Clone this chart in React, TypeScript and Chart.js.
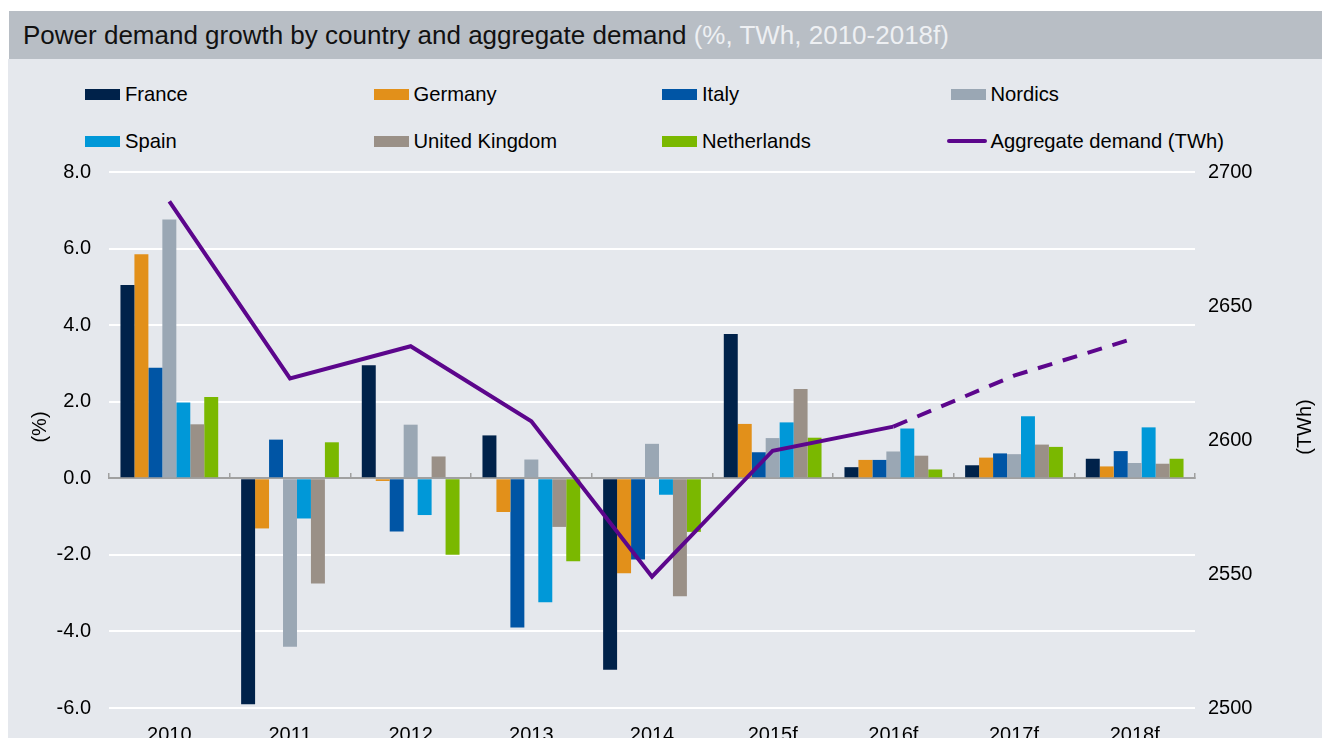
import React, { useEffect, useRef } from 'react';
import { Chart, registerables } from 'chart.js';

Chart.register(...registerables);

const titleMain = 'Power demand growth by country and aggregate demand';
const titleSub = '(%, TWh, 2010-2018f)';
const leftAxisTitle = '(%)';
const rightAxisTitle = '(TWh)';

const categories = ['2010', '2011', '2012', '2013', '2014', '2015f', '2016f', '2017f', '2018f'];

const france = [5.05, -5.9, 2.95, 1.12, -5.0, 3.77, 0.29, 0.34, 0.51];
const germany = [5.85, -1.31, -0.07, -0.88, -2.48, 1.42, 0.48, 0.54, 0.31];
const italy = [2.89, 1.01, -1.39, -3.9, -2.12, 0.68, 0.48, 0.65, 0.71];
const nordics = [6.76, -4.4, 1.4, 0.49, 0.9, 1.05, 0.7, 0.63, 0.4];
const spain = [1.98, -1.05, -0.96, -3.24, -0.43, 1.46, 1.3, 1.62, 1.33];
const unitedKingdom = [1.41, -2.75, 0.57, -1.27, -3.08, 2.33, 0.59, 0.88, 0.38];
const netherlands = [2.12, 0.94, -2.0, -2.17, -1.4, 1.06, 0.23, 0.82, 0.51];
const aggregateDemand = [2689, 2623, 2635, 2607, 2549, 2596, 2605, 2624, 2638];

const seriesNames = ['France', 'Germany', 'Italy', 'Nordics', 'Spain', 'United Kingdom', 'Netherlands'];
const seriesColors = ['#00224a', '#e2901a', '#0055a5', '#9aa7b4', '#0098d8', '#9a9087', '#7ab800'];
const lineName = 'Aggregate demand (TWh)';
const lineColor = '#5c068c';
const forecastStartIndex = 6;

const leftMin = -6, leftMax = 8, leftStep = 2;
const rightMin = 2500, rightMax = 2700, rightStep = 50;

const FONT = '"Liberation Sans", Arial, Helvetica, sans-serif';

const axisTitlePlugin = {
  id: 'axisTitles',
  afterDraw(chart: any) {
    const { ctx, chartArea } = chart;
    const cy = (chartArea.top + chartArea.bottom) / 2 - 13;
    ctx.save();
    ctx.font = `20px ${FONT}`;
    ctx.fillStyle = '#000';
    ctx.textAlign = 'center';
    ctx.textBaseline = 'middle';
    const draw = (text: string, x: number) => {
      ctx.save();
      ctx.translate(x, cy);
      ctx.rotate(-Math.PI / 2);
      ctx.fillText(text, 0, 0);
      ctx.restore();
    };
    draw(leftAxisTitle, chart.scales.y.left + 32);
    draw(rightAxisTitle, chart.scales.y1.right - 21);
    ctx.restore();
  },
};

export default function App() {
  const ref = useRef<HTMLCanvasElement>(null);

  useEffect(() => {
    document.documentElement.style.overflow = 'hidden';
    document.body.style.overflow = 'hidden';
    Chart.defaults.font.family = FONT;
    const values = [france, germany, italy, nordics, spain, unitedKingdom, netherlands];
    const barSets = seriesNames.map((name, i) => ({
      type: 'bar' as const,
      label: name,
      data: values[i],
      backgroundColor: seriesColors[i],
      borderWidth: 0,
      xAxisID: 'x',
      yAxisID: 'y',
      categoryPercentage: 0.81,
      barPercentage: 1,
      order: 1,
    }));
    const chart = new Chart(ref.current!, {
      type: 'bar',
      data: {
        labels: categories,
        datasets: [
          {
            type: 'line' as const,
            label: lineName,
            data: aggregateDemand,
            xAxisID: 'x',
            yAxisID: 'y1',
            borderColor: lineColor,
            backgroundColor: lineColor,
            borderWidth: 4,
            pointRadius: 0,
            tension: 0,
            fill: false,
            order: 0,
            segment: {
              borderDash: (c: any) => (c.p0DataIndex >= forecastStartIndex ? [15, 11] : undefined),
            },
          } as any,
          ...barSets,
        ],
      },
      options: {
        animation: false,
        responsive: false,
        maintainAspectRatio: false,
        layout: { padding: { top: 14, left: 0, right: 0, bottom: 0 } },
        plugins: { legend: { display: false }, tooltip: { enabled: false } },
        scales: {
          x: {
            grid: { display: false, drawTicks: false },
            border: { display: false },
            ticks: { color: '#000', font: { size: 20 }, padding: 15, maxRotation: 0, autoSkip: false },
            afterFit: (s: any) => { s.height = 44; },
          },
          x2: {
            type: 'category',
            labels: categories,
            position: { y: 0 } as any,
            offset: true,
            grid: { drawOnChartArea: false, drawTicks: true, tickLength: -6, color: '#a0a0a0', offset: true, lineWidth: 1.5 },
            border: { color: '#a0a0a0', width: 2 },
            ticks: { display: false },
          },
          y: {
            position: 'left',
            min: leftMin,
            max: leftMax,
            ticks: {
              stepSize: leftStep,
              callback: (v: any) => Number(v).toFixed(1),
              padding: 18,
              color: '#000',
              font: { size: 20 },
            },
            grid: {
              color: (c: any) => (c.tick && c.tick.value === 0 ? '#a0a0a0' : '#ffffff'),
              lineWidth: 2,
              drawTicks: false,
            },
            border: { display: false },
            afterFit: (s: any) => { s.width = 101; },
          },
          y1: {
            position: 'right',
            min: rightMin,
            max: rightMax,
            ticks: {
              stepSize: rightStep,
              callback: (v: any) => String(Math.round(Number(v))),
              padding: 13,
              color: '#000',
              font: { size: 20 },
            },
            grid: { drawOnChartArea: false, drawTicks: false },
            border: { display: false },
            afterFit: (s: any) => { s.width = 131; },
          },
        },
      } as any,
      plugins: [axisTitlePlugin],
    });
    return () => chart.destroy();
  }, []);

  const legendItems = [
    ...seriesNames.map((n, i) => ({ name: n, color: seriesColors[i], line: false })),
    { name: lineName, color: lineColor, line: true },
  ];

  return (
    <div style={{ position: 'relative', width: 1322, height: 730, overflow: 'hidden', fontFamily: FONT }}>
      <div
        style={{
          position: 'absolute', left: 1, top: 3, width: 1320, height: 48,
          background: '#b8bec5', boxSizing: 'border-box', paddingLeft: 14,
          lineHeight: '48px', fontSize: 26, color: '#111', whiteSpace: 'nowrap',
        }}
      >
        {titleMain} <span style={{ color: '#eef0f3' }}>{titleSub}</span>
      </div>
      <div style={{ position: 'absolute', left: 0, top: 51, width: 1318, height: 700, background: '#e5e8ed' }} />
      {legendItems.map((it, i) => {
        const col = i % 4;
        const row = Math.floor(i / 4);
        return (
          <div
            key={it.name}
            style={{
              position: 'absolute', left: 77 + col * 288.5, top: 74 + row * 47, height: 24,
              display: 'flex', alignItems: 'center', fontSize: 20.2, color: '#000', whiteSpace: 'nowrap',
            }}
          >
            {it.line ? (
              <span style={{ display: 'inline-block', width: 40, height: 3.5, marginLeft: -4, marginRight: 4, background: it.color, borderRadius: 2 }} />
            ) : (
              <span style={{ display: 'inline-block', width: 35, height: 11, marginRight: 5, background: it.color }} />
            )}
            <span>{it.name}</span>
          </div>
        );
      })}
      <canvas
        ref={ref}
        width={1318}
        height={610}
        style={{ position: 'absolute', left: 0, top: 134, width: 1318, height: 610 }}
      />
    </div>
  );
}
